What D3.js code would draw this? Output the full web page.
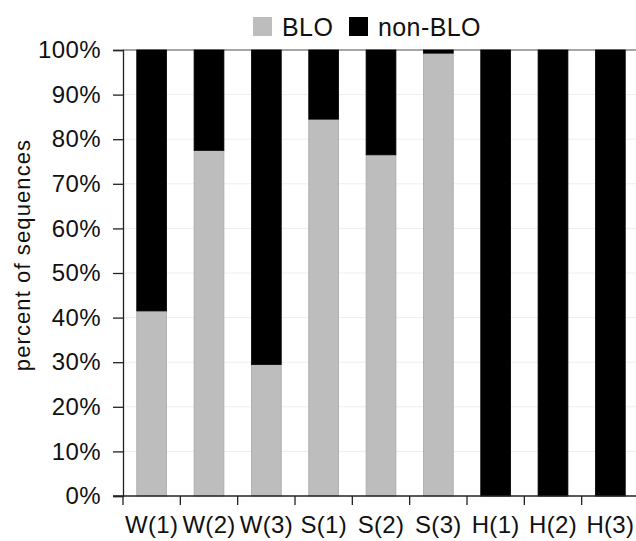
<!DOCTYPE html>
<html>
<head>
<meta charset="utf-8">
<script src="https://cdn.jsdelivr.net/npm/d3@7"></script>
<style>
  body { margin: 0; background: #fff; }
  svg text { font-family: "Liberation Sans", Arial, sans-serif; fill: #111; }
</style>
</head>
<body>
<div id="chart"></div>
<script>
// data
var samples = ["W(1)", "W(2)", "W(3)", "S(1)", "S(2)", "S(3)", "H(1)", "H(2)", "H(3)"];
var bloPct = [41.5, 77.5, 29.5, 84.5, 76.5, 99.3, 0, 0, 0];
var nonBloPct = [58.5, 22.5, 70.5, 15.5, 23.5, 0.7, 100, 100, 100];
var yTicks = [0, 10, 20, 30, 40, 50, 60, 70, 80, 90, 100];
var seriesNames = ["BLO", "non-BLO"];
var seriesColors = ["#bdbdbd", "#000000"];

var width = 636, height = 541;
var margin = {top: 50, right: -3, bottom: 45, left: 123};
var area = {width: width - margin.left - margin.right, height: height - margin.top - margin.bottom};

var svg = d3.select("#chart").append("svg")
    .attr("width", width)
    .attr("height", height);

var g = svg.append("g")
    .attr("transform", "translate(" + margin.left + "," + margin.top + ")");

// 目盛り
var x = d3.scaleBand()
    .domain(samples)
    .range([0, area.width])
    .paddingInner(0.48)
    .paddingOuter(0.24);

var y = d3.scaleLinear()
    .domain([0, 100])
    .range([area.height, 0]);

// grid lines
g.selectAll(".grid")
    .data(yTicks.filter(function(d) { return d > 0; }))
    .enter().append("line")
    .attr("class", "grid")
    .attr("x1", 0)
    .attr("x2", area.width)
    .attr("y1", function(d) { return y(d); })
    .attr("y2", function(d) { return y(d); })
    .attr("stroke", function(d) { return d === 100 ? "#888" : "#eeeeee"; })
    .attr("stroke-width", function(d) { return d === 100 ? 1.5 : 1; });

// stacked bars
var rows = samples.map(function(s, i) {
    return {sample: s, blo: bloPct[i], nonblo: nonBloPct[i]};
});
var stack = d3.stack().keys(["blo", "nonblo"]);
var layers = stack(rows);

g.selectAll(".layer")
    .data(layers)
    .enter().append("g")
    .attr("class", "layer")
    .attr("fill", function(d, i) { return seriesColors[i]; })
    .attr("stroke", function(d, i) { return i === 0 ? "#a8a8a8" : "#000"; })
    .attr("stroke-width", 0.8)
    .selectAll("rect")
    .data(function(d) { return d; })
    .enter().append("rect")
    .attr("x", function(d) { return x(d.data.sample); })
    .attr("width", x.bandwidth())
    .attr("y", function(d) { return y(d[1]); })
    .attr("height", function(d) { return Math.max(0, y(d[0]) - y(d[1])); });

// Y軸
var yAxis = d3.axisLeft(y)
    .tickValues(yTicks)
    .tickFormat(function(d) { return d + "%"; })
    .tickSize(10)
    .tickPadding(12);

var yg = g.append("g").call(yAxis);
yg.select(".domain").attr("stroke", "#222").attr("stroke-width", 1.3);
yg.selectAll(".tick line").attr("stroke", "#222").attr("stroke-width", 1.3);
yg.selectAll("text").style("font-size", "24px").style("letter-spacing", "0.4px").attr("fill", "#111");

// X軸
var xg = g.append("g")
    .attr("transform", "translate(0," + area.height + ")");
xg.append("line")
    .attr("x1", -10).attr("x2", area.width)
    .attr("stroke", "#222").attr("stroke-width", 1.3);
var step = x.step();
xg.selectAll(".xtick")
    .data(samples)
    .enter().append("line")
    .attr("class", "xtick")
    .attr("x1", function(d) { return x(d) - (step - x.bandwidth()) / 2; })
    .attr("x2", function(d) { return x(d) - (step - x.bandwidth()) / 2; })
    .attr("y1", 0)
    .attr("y2", 9)
    .attr("stroke", "#222").attr("stroke-width", 1.3);
xg.selectAll(".xlabel")
    .data(samples)
    .enter().append("text")
    .attr("class", "xlabel")
    .attr("x", function(d) { return x(d) + x.bandwidth() / 2; })
    .attr("y", 37)
    .attr("text-anchor", "middle")
    .style("font-size", "24px")
    .style("letter-spacing", "0.3px")
    .text(function(d) { return d; });

// y title
svg.append("text")
    .attr("transform", "translate(30," + (margin.top + area.height / 2 - 18) + ") rotate(-90)")
    .attr("text-anchor", "middle")
    .style("font-size", "22px")
    .style("letter-spacing", "1.1px")
    .text("percent of sequences");

// legend
var legend = svg.append("g").attr("transform", "translate(253,17)");
var li = legend.selectAll(".leg")
    .data(seriesNames)
    .enter().append("g")
    .attr("class", "leg")
    .attr("transform", function(d, i) { return "translate(" + (i * 96) + ",0)"; });
li.append("rect")
    .attr("width", 19).attr("height", 19)
    .attr("fill", function(d, i) { return seriesColors[i]; });
li.append("text")
    .attr("x", 29).attr("y", 19)
    .style("font-size", "25px")
    .style("letter-spacing", "0.4px")
    .text(function(d) { return d; });
</script>
</body>
</html>
